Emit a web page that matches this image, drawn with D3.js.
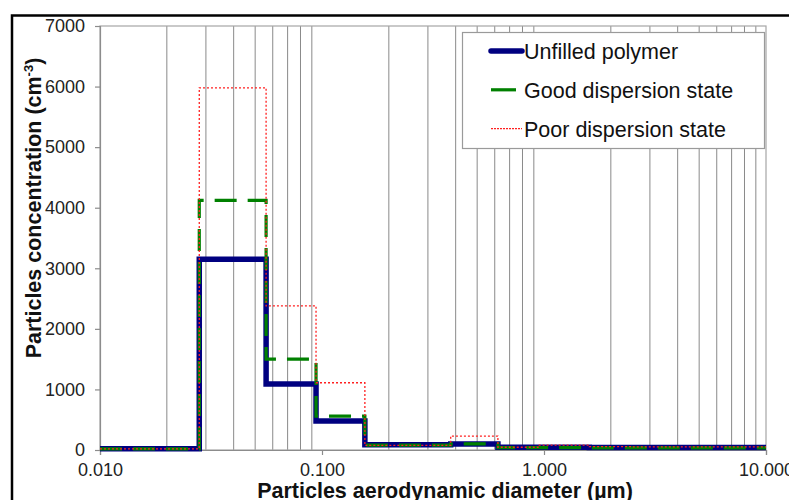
<!DOCTYPE html>
<html>
<head>
<meta charset="utf-8">
<script src="https://cdnjs.cloudflare.com/ajax/libs/d3/7.8.5/d3.min.js"></script>
<style>
  body { margin: 0; background: white; }
  svg { display: block; font-family: "Liberation Sans", Arial, sans-serif; }
</style>
</head>
<body>
<div id="viz"></div>
<script>
// bin edges (µm) and concentration per bin (cm-3)
var binEdges = [0.01, 0.028, 0.056, 0.094, 0.156, 0.38, 0.62, 0.94, 1.6, 2.5, 4.0, 10];
var unfilled = [20, 3150, 1090, 480, 85, 100, 45, 45, 40, 40, 40];
var good     = [20, 4120, 1500, 560, 80, 100, 40, 40, 35, 35, 35];
var poor     = [20, 5980, 2380, 1110, 75, 230, 45, 80, 55, 50, 50];

var seriesNames = ['Unfilled polymer', 'Good dispersion state', 'Poor dispersion state'];
var yTicks = [0, 1000, 2000, 3000, 4000, 5000, 6000, 7000];
var xTicks = [0.01, 0.1, 1, 10];

// note: "top" is taken by window.top, so plot edges get a prefix
var width = 789,
	height = 500,
	pLeft = 100,
	pRight = 766,
	pTop = 26,
	pBottom = 450;

var xScale = d3.scaleLog()
	.domain([0.01, 10])
	.range([pLeft, pRight]);

var yScale = d3.scaleLinear()
	.domain([0, 7000])
	.range([pBottom, pTop]);

var svg = d3.select('#viz').append('svg')
	.attr('width', width)
	.attr('height', height);

// outer frame (chart area runs past the picture)
svg.append('rect')
	.attr('x', 12).attr('y', 15.5)
	.attr('width', 900).attr('height', 700)
	.attr('fill', 'white')
	.attr('stroke', 'black')
	.attr('stroke-width', 2.5);

// minor log gridlines 2..9 in each decade
var gridVals = [];
[0.01, 0.1, 1].forEach(function(dec){
	for (var k=2; k<10; k++) gridVals.push(dec*k);
});

svg.append('g').selectAll('line')
	.data(gridVals)
	.enter().append('line')
	.attr('x1', function(d){ return xScale(d); })
	.attr('x2', function(d){ return xScale(d); })
	.attr('y1', pTop)
	.attr('y2', pBottom)
	.attr('stroke', '#8a8a8a')
	.attr('stroke-width', 1);

// plot border
svg.append('rect')
	.attr('x', pLeft).attr('y', pTop)
	.attr('width', pRight-pLeft).attr('height', pBottom-pTop)
	.attr('fill', 'none')
	.attr('stroke', '#a6a6a6')
	.attr('stroke-width', 1.2);

// axes
var yAxis = d3.axisLeft(yScale)
	.tickValues(yTicks)
	.tickSize(5)
	.tickPadding(10)
	.tickFormat(d3.format('d'));

var xAxis = d3.axisBottom(xScale)
	.tickValues(xTicks)
	.tickSize(5)
	.tickPadding(8)
	.tickFormat(d3.format('.3f'));

var gy = svg.append('g')
	.attr('transform', 'translate(' + pLeft + ',0)')
	.call(yAxis);

var gx = svg.append('g')
	.attr('transform', 'translate(0,' + pBottom + ')')
	.call(xAxis);

[gx, gy].forEach(function(g){
	g.select('.domain').attr('stroke', '#8c8c8c').attr('stroke-width', 1.2);
	g.selectAll('.tick line').attr('stroke', '#8c8c8c').attr('stroke-width', 1.2);
	g.selectAll('.tick text')
		.attr('fill', '#222')
		.style('font-size', '18px')
		.style('font-family', '"Liberation Sans", Arial, sans-serif');
});

// step lines
var stepLine = d3.line()
	.x(function(d){ return xScale(d[0]); })
	.y(function(d){ return yScale(d[1]); })
	.curve(d3.curveStepAfter);

function toPoints(vals){
	var pts = vals.map(function(v, i){ return [binEdges[i], v]; });
	pts.push([binEdges[binEdges.length-1], vals[vals.length-1]]);
	return pts;
}

var styles = [
	{ data: unfilled, color: '#000080', width: 5.5, dash: null },
	{ data: good, color: '#008000', width: 3.2, dash: '22,11' },
	{ data: poor, color: '#ff2020', width: 1.3, dash: '2,2' }
];

svg.append('g').selectAll('path')
	.data(styles)
	.enter().append('path')
	.attr('d', function(d){ return stepLine(toPoints(d.data)); })
	.attr('fill', 'none')
	.attr('stroke', function(d){ return d.color; })
	.attr('stroke-width', function(d){ return d.width; })
	.attr('stroke-dasharray', function(d){ return d.dash; })
	.attr('stroke-linejoin', 'miter');

// legend
var legend = svg.append('g');

legend.append('rect')
	.attr('x', 462.5).attr('y', 32.5)
	.attr('width', 302).attr('height', 116)
	.attr('fill', 'white')
	.attr('stroke', '#9a9a9a')
	.attr('stroke-width', 1.2);

var items = legend.selectAll('g.item')
	.data(styles)
	.enter().append('g')
	.attr('class', 'item')
	.attr('transform', function(d, i){ return 'translate(0,' + (51 + i*38.8) + ')'; });

items.append('line')
	.attr('x1', 491)
	.attr('x2', function(d, i){ return i == 1 ? 516 : 522; })
	.attr('y1', 0).attr('y2', 0)
	.attr('stroke', function(d){ return d.color; })
	.attr('stroke-width', function(d){ return d.width; })
	.attr('stroke-linecap', function(d, i){ return i == 0 ? 'round' : 'butt'; })
	.attr('stroke-dasharray', function(d, i){ return i == 2 ? '2,1' : null; });

items.append('text')
	.attr('x', 524)
	.attr('y', 8)
	.attr('fill', '#111')
	.style('font-size', '21.5px')
	.text(function(d, i){ return seriesNames[i]; });

// axis titles
var yTitle = svg.append('text')
	.attr('transform', 'translate(41,208) rotate(-90)')
	.attr('text-anchor', 'middle')
	.attr('fill', '#111')
	.style('font-size', '21.5px')
	.style('font-weight', 'bold');

yTitle.append('tspan').text('Particles concentration (cm');
yTitle.append('tspan').attr('dy', -8).style('font-size', '13px').text('-3');
yTitle.append('tspan').attr('dy', 8).text(')');

svg.append('text')
	.attr('x', 445)
	.attr('y', 498)
	.attr('text-anchor', 'middle')
	.attr('fill', '#111')
	.style('font-size', '21.5px')
	.style('font-weight', 'bold')
	.text('Particles aerodynamic diameter (µm)');
</script>
</body>
</html>
